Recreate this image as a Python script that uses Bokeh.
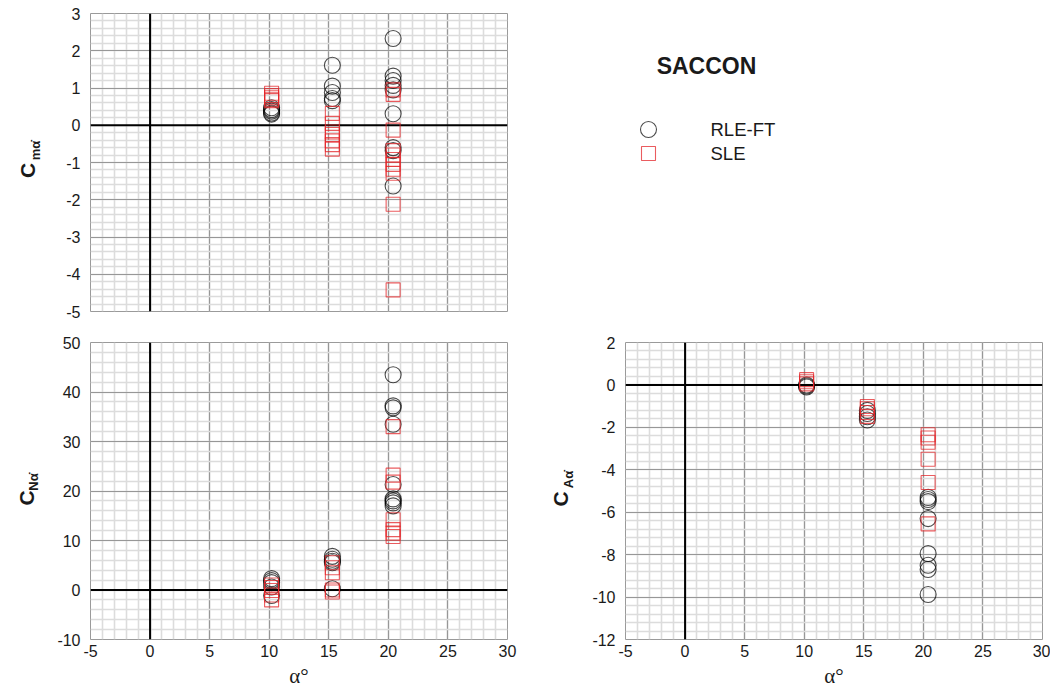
import math
from bokeh.plotting import figure
from bokeh.layouts import column, row
from bokeh.models import (Range1d, SingleIntervalTicker, Span, Label, PrintfTickFormatter)
from bokeh.embed import file_html
from bokeh.resources import INLINE

# ---------------- data ----------------
alpha_10 = 10.2
alpha_15 = 15.3
alpha_20 = 20.4

# pitching moment derivative, Cm_alpha_dot
cm_rle_a10 = [0.47, 0.42, 0.38, 0.33, 0.30]
cm_rle_a15 = [1.61, 1.05, 0.88, 0.72, 0.66]
cm_rle_a20 = [2.33, 1.32, 1.20, 1.07, 0.95, 0.31, -0.60, -0.68, -1.63]
cm_sle_a10 = [0.86, 0.80, 0.75, 0.70, 0.66]
cm_sle_a15 = [0.32, 0.05, -0.18, -0.25, -0.42, -0.52, -0.64]
cm_sle_a20 = [0.95, 0.83, -0.13, -0.68, -0.80, -0.92, -1.05, -1.18, -1.29, -2.12, -4.42]

# normal force derivative, CN_alpha_dot
cn_rle_a10 = [2.3, 1.9, 1.5, 0.6, -1.1]
cn_rle_a15 = [6.8, 6.2, 5.8, 5.5, 0.25]
cn_rle_a20 = [43.5, 37.2, 36.8, 33.5, 21.3, 18.4, 18.0, 17.6, 17.0]
cn_sle_a10 = [1.0, 0.5, -0.1, -1.0, -2.0]
cn_sle_a15 = [5.5, 4.5, 3.5, 0.0, -0.4]
cn_sle_a20 = [33.0, 23.2, 21.8, 14.2, 12.2, 11.5, 10.8]

# axial force derivative, CA_alpha_dot
ca_rle_a10 = [0.0, -0.05, -0.1]
ca_rle_a15 = [-1.2, -1.35, -1.5, -1.65]
ca_rle_a20 = [-5.3, -5.4, -5.5, -6.3, -7.95, -8.5, -8.7, -9.88]
ca_sle_a10 = [0.25, 0.15, 0.05]
ca_sle_a15 = [-1.02, -1.12, -1.3, -1.48]
ca_sle_a20 = [-2.35, -2.5, -2.7, -3.5, -4.6, -6.55]

series_names = ["RLE-FT", "SLE"]
x_label_text = "α°"
title_text = "SACCON"


def stack(a10, a15, a20):
    xs = [alpha_10] * len(a10) + [alpha_15] * len(a15) + [alpha_20] * len(a20)
    ys = list(a10) + list(a15) + list(a20)
    return xs, ys


FONT = "Liberation Sans"
TXT = "#1a1a1a"
RED = "#e3262a"

TOP_B, TOP_H, TOP_BB = 13, 298, 15      # row 1: border top, frame height, border bottom
BOT_B, BOT_H, BOT_BB = 16, 297, 50      # row 2

CIRCLE_STYLE = dict(marker="circle", size=16, fill_color=None,
                    line_color="black", line_alpha=0.7, line_width=1.1)
SQUARE_STYLE = dict(marker="square", size=14, fill_color=None,
                    line_color=RED, line_alpha=0.75, line_width=1.1)


def make_panel(y0, y1, yint, frame_h, b_left, b_right, b_top, b_bottom, show_x):
    p = figure(frame_width=417, frame_height=frame_h,
               x_range=Range1d(-5, 30), y_range=Range1d(y0, y1),
               toolbar_location=None, output_backend="svg", title=None,
               min_border_left=b_left, min_border_right=b_right,
               min_border_top=b_top, min_border_bottom=b_bottom,
               outline_line_color="#9a9a9a", outline_line_width=1,
               background_fill_color="white", border_fill_color="white")
    xt = SingleIntervalTicker(interval=5, num_minor_ticks=5)
    yt = SingleIntervalTicker(interval=yint, num_minor_ticks=5)
    p.xaxis.ticker = xt
    p.yaxis.ticker = yt
    p.xgrid.ticker = xt
    p.ygrid.ticker = yt
    for g in (p.xgrid, p.ygrid):
        g.grid_line_color = "#979797"
        g.grid_line_width = 1.2
        g.minor_grid_line_color = "#dcdcdc"
        g.minor_grid_line_width = 1.6
    for ax in (p.xaxis, p.yaxis):
        ax.formatter = PrintfTickFormatter(format="%d")
        ax.axis_line_color = None
        ax.major_tick_line_color = None
        ax.minor_tick_line_color = None
        ax.major_tick_out = 0
        ax.minor_tick_out = 0
        ax.major_label_text_font = FONT
        ax.major_label_text_font_size = "16px"
        ax.major_label_text_color = TXT
    p.yaxis.major_label_standoff = 10
    p.xaxis.major_label_standoff = 5
    if show_x:
        p.xaxis.axis_label = x_label_text
        p.xaxis.axis_label_text_font = "Liberation Serif"
        p.xaxis.axis_label_text_font_size = "21px"
        p.xaxis.axis_label_text_font_style = "normal"
        p.xaxis.axis_label_text_color = TXT
        p.xaxis.axis_label_standoff = 4
    else:
        p.xaxis.visible = False
    p.add_layout(Span(location=0, dimension="height", line_color="black", line_width=2, level="underlay"))
    p.add_layout(Span(location=0, dimension="width", line_color="black", line_width=2, level="underlay"))
    return p


def add_series(p, rle, sle):
    xr, yr = stack(*rle)
    xs, ys = stack(*sle)
    p.scatter(xr, yr, **CIRCLE_STYLE)
    p.scatter(xs, ys, **SQUARE_STYLE)


def blank(fw, fh, b_top, b_bottom, xr=(0, 1), yr=(0, 1)):
    return figure(frame_width=fw, frame_height=fh, x_range=Range1d(*xr), y_range=Range1d(*yr),
                  x_axis_type=None, y_axis_type=None, toolbar_location=None, title=None,
                  output_backend="svg", outline_line_color=None,
                  min_border_left=0, min_border_right=0,
                  min_border_top=b_top, min_border_bottom=b_bottom,
                  background_fill_color="white", border_fill_color="white")


def ylabel_fig(fw, fh, b_top, b_bottom, sub, cx, cy, sx, sy):
    f = blank(fw, fh, b_top, b_bottom)
    f.add_layout(Label(x=cx, y=cy, x_units="screen", y_units="screen", text="C",
                       angle=math.pi / 2, text_align="center", text_baseline="alphabetic",
                       text_font=FONT, text_font_size="21px", text_font_style="bold",
                       text_color=TXT))
    f.add_layout(Label(x=sx, y=sy, x_units="screen", y_units="screen", text=sub,
                       angle=math.pi / 2, text_align="center", text_baseline="alphabetic",
                       text_font=FONT, text_font_size="13px", text_font_style="bold",
                       text_color=TXT))
    return f


# top-left: Cm
p1 = make_panel(-5, 3, 1, TOP_H, 40, 35, TOP_B, TOP_BB, False)
add_series(p1, (cm_rle_a10, cm_rle_a15, cm_rle_a20), (cm_sle_a10, cm_sle_a15, cm_sle_a20))
yl1 = ylabel_fig(50, TOP_H, TOP_B, TOP_BB, "mα̇", 27, 141, 35, 161)

# bottom-left: CN
p2 = make_panel(-10, 50, 10, BOT_H, 40, 35, BOT_B, BOT_BB, True)
add_series(p2, (cn_rle_a10, cn_rle_a15, cn_rle_a20), (cn_sle_a10, cn_sle_a15, cn_sle_a20))
yl2 = ylabel_fig(50, BOT_H, BOT_B, BOT_BB, "Nα̇", 25.5, 141.5, 33, 157.5)

# bottom-right: CA
p3 = make_panel(-12, 2, 2, BOT_H, 40, 8, BOT_B, BOT_BB, True)
add_series(p3, (ca_rle_a10, ca_rle_a15, ca_rle_a20), (ca_sle_a10, ca_sle_a15, ca_sle_a20))
yl3 = ylabel_fig(43, BOT_H, BOT_B, BOT_BB, "Aα̇", 18, 140.5, 26.3, 160)

# legend and title panel (top right); its scales are in page pixels
p_leg = blank(508, TOP_H, TOP_B, TOP_BB, xr=(542, 1050), yr=(TOP_B + TOP_H, TOP_B))
KEY_X, TEXT_X = 648, 710
KEY_Y = [129, 153]
p_leg.scatter([KEY_X], [KEY_Y[0]], **CIRCLE_STYLE)
p_leg.scatter([KEY_X], [KEY_Y[1]], **SQUARE_STYLE)
for name, ky in zip(series_names, KEY_Y):
    p_leg.add_layout(Label(x=TEXT_X, y=ky, text=name, text_align="left", text_baseline="middle",
                           text_font=FONT, text_font_size="18.5px", text_color=TXT))
p_leg.add_layout(Label(x=706, y=65, text=title_text,
                       text_align="center", text_baseline="middle", text_font=FONT,
                       text_font_size="23px", text_font_style="bold", text_color=TXT))

layout = column(row(yl1, p1, p_leg), row(yl2, p2, yl3, p3))
open("out.html", "w").write(file_html(layout, INLINE))
